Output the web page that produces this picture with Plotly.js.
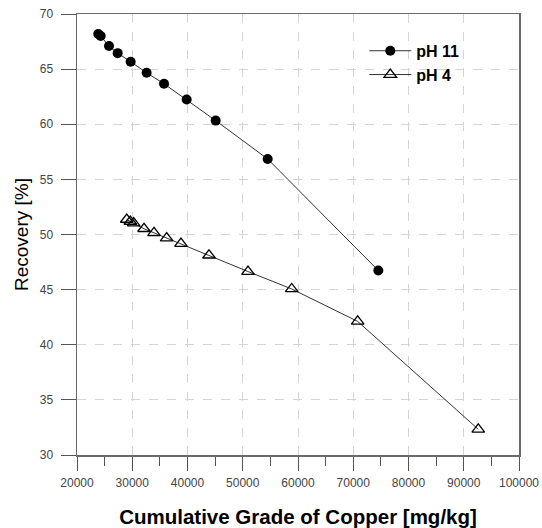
<!DOCTYPE html>
<html>
<head>
<meta charset="utf-8">
<script src="https://cdn.plot.ly/plotly-3.0.1.min.js"></script>
<style>html,body{margin:0;padding:0;background:#fff;}#chart{width:542px;height:528px;}</style>
</head>
<body>
<div id="chart"></div>
<script>
const seriesNames = ["pH 11", "pH 4"];
const ph11Grade = [23850, 24290, 25790, 27360, 29710, 32600, 35750, 39850, 45100, 54510, 74540];
const ph11Recovery = [68.18, 68.0, 67.09, 66.45, 65.67, 64.67, 63.67, 62.24, 60.33, 56.85, 46.73];
const ph4Grade = [29000, 29650, 30260, 32130, 33940, 36230, 38820, 43890, 50950, 58860, 70800, 92630];
const ph4Recovery = [51.36, 51.18, 51.03, 50.52, 50.15, 49.67, 49.18, 48.12, 46.64, 45.06, 42.12, 32.33];
const xTitle = "Cumulative Grade of Copper [mg/kg]";
const yTitle = "Recovery [%]";

const traces = [
  {
    x: ph11Grade, y: ph11Recovery, name: seriesNames[0], type: "scatter", mode: "lines+markers",
    line: {color: "#333", width: 1},
    marker: {symbol: "circle", size: 10, color: "#000"}
  },
  {
    x: ph4Grade, y: ph4Recovery, name: seriesNames[1], type: "scatter", mode: "lines+markers",
    line: {color: "#333", width: 1},
    marker: {symbol: "triangle-up-open", size: 11, color: "#000", line: {width: 1.3, color: "#000"}}
  }
];

const axisCommon = {
  showline: true, linecolor: "#6a6a6a", linewidth: 1.5, mirror: true,
  showgrid: true, gridcolor: "#d4d4d4", griddash: "dash", gridwidth: 1,
  zeroline: false, ticks: "outside", tickcolor: "#555", tickwidth: 1,
  tickfont: {family: "Liberation Sans, Arial, sans-serif", size: 12, color: "#444"}
};

const layout = {
  width: 542, height: 528,
  margin: {l: 77, r: 23, t: 14, b: 73},
  paper_bgcolor: "#fff", plot_bgcolor: "#fff",
  showlegend: true,
  legend: {
    x: 0.65, y: 0.955, xanchor: "left", yanchor: "top",
    bgcolor: "rgba(0,0,0,0)", tracegroupgap: 0, itemwidth: 42,
    font: {family: "Liberation Sans, Arial, sans-serif", size: 16, color: "#000", weight: "bold"}
  },
  xaxis: Object.assign({}, axisCommon, {
    range: [20000, 100000], dtick: 10000, tick0: 20000, ticklen: 14, tickformat: "d",
    ticklabelstandoff: 2,
    minor: {dtick: 5000, ticks: "outside", ticklen: 9, tickcolor: "#555", showgrid: false},
    title: {text: xTitle, standoff: 22, font: {family: "Liberation Sans, Arial, sans-serif", size: 20.5, color: "#000", weight: "bold"}}
  }),
  yaxis: Object.assign({}, axisCommon, {
    range: [30, 70], dtick: 5, tick0: 30, ticklen: 15, ticklabelstandoff: 5,
    title: {text: yTitle, standoff: 6, font: {family: "Liberation Sans, Arial, sans-serif", size: 19, color: "#000"}}
  })
};

Plotly.newPlot("chart", traces, layout, {displayModeBar: false, staticPlot: true});
</script>
</body>
</html>
